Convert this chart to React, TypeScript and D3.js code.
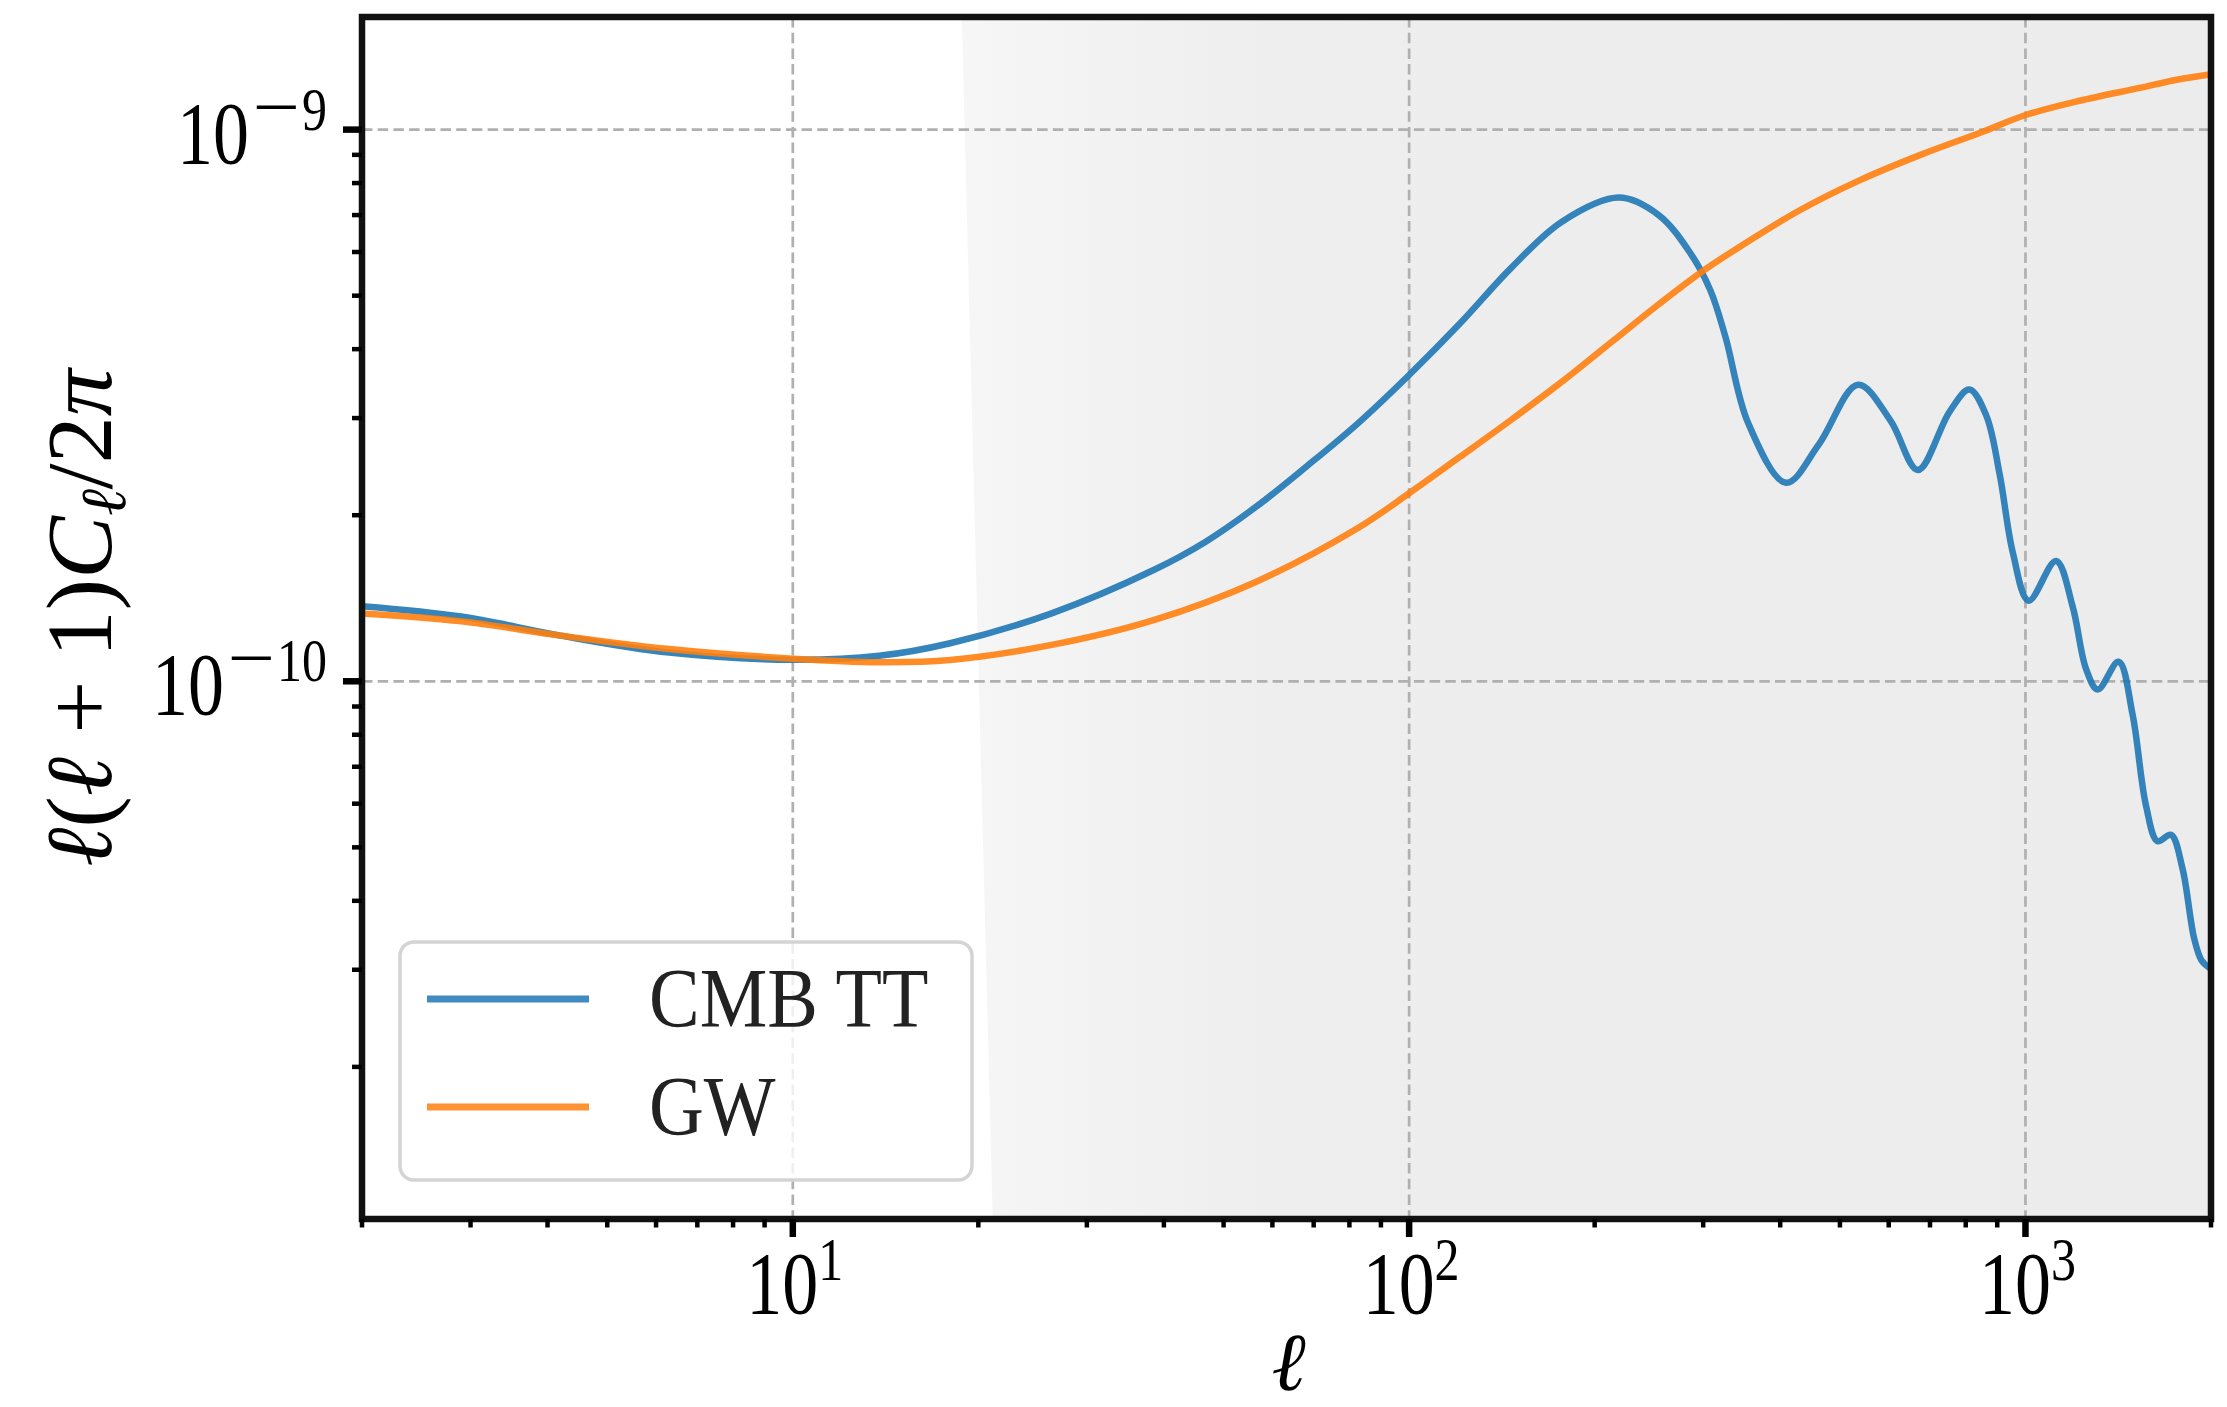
import React from 'react';
import * as d3 from 'd3';

// multipole ell and l(l+1)C_l/2pi
const cmbEll = [2, 2.9, 4.2, 6.3, 10, 13.8, 18, 26.3, 38.5, 46.7, 56.4, 68.3, 82.6, 100, 121, 146.3, 177, 219, 254, 286, 308, 326, 355, 409, 462, 535, 604, 669, 753, 811, 864, 908, 954, 1012, 1121, 1193, 1254, 1310, 1416, 1492, 1569, 1638, 1722, 1797, 1878, 1930, 1990];
const cmbCl = [1.368e-10, 1.31e-10, 1.21e-10, 1.127e-10, 1.094e-10, 1.112e-10, 1.172e-10, 1.328e-10, 1.591e-10, 1.789e-10, 2.07e-10, 2.456e-10, 2.935e-10, 3.591e-10, 4.455e-10, 5.61e-10, 6.81e-10, 7.53e-10, 7.0e-10, 5.97e-10, 5.12e-10, 4.21e-10, 2.935e-10, 2.29e-10, 2.687e-10, 3.448e-10, 2.968e-10, 2.416e-10, 3.08e-10, 3.38e-10, 3.03e-10, 2.374e-10, 1.71e-10, 1.4e-10, 1.652e-10, 1.365e-10, 1.053e-10, 0.966e-10, 1.085e-10, 0.871e-10, 0.595e-10, 0.513e-10, 0.527e-10, 0.459e-10, 0.342e-10, 0.312e-10, 0.302e-10];

const gwEll = [2, 2.9, 4.2, 6.3, 10, 13.8, 18, 26.3, 38.5, 56.4, 82.6, 100, 121, 146.3, 177, 214, 255, 296, 344, 431, 539, 674, 844, 1001, 1224, 1532, 1752, 2000];
const gwCl = [1.327e-10, 1.284e-10, 1.21e-10, 1.144e-10, 1.099e-10, 1.083e-10, 1.093e-10, 1.164e-10, 1.291e-10, 1.514e-10, 1.896e-10, 2.192e-10, 2.553e-10, 2.976e-10, 3.492e-10, 4.138e-10, 4.84e-10, 5.49e-10, 6.135e-10, 7.15e-10, 8.1e-10, 8.99e-10, 9.87e-10, 1.063e-9, 1.128e-9, 1.19e-9, 1.23e-9, 1.26e-9];

const seriesNames = ['CMB TT', 'GW'];
const seriesColors = ['#1f77b4', '#ff7f0e'];

// shaded band: left edge in ell at top and at bottom of the axes
const shadeEllTop = 18.8;
const shadeEllBottom = 21.1;
const shadeFadeEll = 60;

const xDomain = [2, 2000];
const yDomain = [1.06e-11, 1.6e-9];

const W = 2227, H = 1407;
const left = 362, right = 2211, top = 17, bottom = 1219;

export default function App() {
  const x = d3.scaleLog().domain(xDomain).range([left, right]);
  const y = d3.scaleLog().domain(yDomain).range([bottom, top]);

  const line = d3.line<number[]>()
    .x(d => x(d[0]))
    .y(d => y(d[1]))
    .curve(d3.curveCatmullRom.alpha(0.5));

  const series = [
    d3.zip(cmbEll, cmbCl),
    d3.zip(gwEll, gwCl),
  ];

  const isPow10 = (v: number) => Math.abs(Math.log10(v) - Math.round(Math.log10(v))) < 1e-6;
  const xTicks = x.ticks();
  const yTicks = y.ticks();
  const xMajor = xTicks.filter(isPow10);
  const yMajor = yTicks.filter(isPow10);
  const xMinor = xTicks.filter(t => !isPow10(t));
  const yMinor = yTicks.filter(t => !isPow10(t));

  const shadePath = `M${x(shadeEllTop)},${top}L${right},${top}L${right},${bottom}L${x(shadeEllBottom)},${bottom}Z`;

  const font = '"Liberation Serif", "DejaVu Serif", serif';
  const gridStyle = { stroke: '#b0b0b0', strokeWidth: 2.7, strokeDasharray: '10.5,5.2' };
  const sy = 1.22; // tall digits of the original typesetting

  // y tick label pieces, laid out from the right edge
  const yLabelRight = 327;
  const yLabel = (t: number) => {
    const e = String(Math.abs(Math.round(Math.log10(t))));
    const base = y(t) + 33;
    const expW = 25 * e.length;
    const minusEnd = yLabelRight - expW - 2;
    const tenEnd = minusEnd - 47 - 4;
    return (
      <g key={'yl' + t}>
        <text transform={`translate(${tenEnd},${base}) scale(1,${sy})`} textAnchor="end" fontSize={72}>10</text>
        <text transform={`translate(${minusEnd},${base - 33}) scale(1.5,${sy})`} textAnchor="end" fontSize={56}>{'\u2212'}</text>
        <text transform={`translate(${yLabelRight},${base - 33}) scale(1,${sy})`} textAnchor="end" fontSize={50}>{e}</text>
      </g>
    );
  };

  return (
    <div style={{ position: 'absolute', left: 0, top: 0 }}>
      <svg width={W} height={H} style={{ display: 'block', background: '#fff' }} fontFamily={font}>
        <defs>
          <clipPath id="plot">
            <rect x={left} y={top} width={right - left} height={bottom - top} />
          </clipPath>
          <linearGradient id="shade" gradientUnits="userSpaceOnUse" x1={x(shadeEllTop)} x2={right} y1={0} y2={0}>
            <stop offset={0} stopColor="#f6f6f6" />
            <stop offset={(x(shadeFadeEll) - x(shadeEllTop)) / (right - x(shadeEllTop))} stopColor="#eeeeee" />
            <stop offset={1} stopColor="#ececec" />
          </linearGradient>
        </defs>

        <path d={shadePath} fill="url(#shade)" />

        {xMajor.map(t => (
          <line key={'gx' + t} x1={x(t)} x2={x(t)} y1={top} y2={bottom} {...gridStyle} />
        ))}
        {yMajor.map(t => (
          <line key={'gy' + t} x1={left} x2={right} y1={y(t)} y2={y(t)} {...gridStyle} />
        ))}

        <g clipPath="url(#plot)">
          {series.map((s, i) => (
            <path key={i} d={line(s) || ''} fill="none" stroke={seriesColors[i]}
              strokeOpacity={0.9} strokeWidth={6.5} strokeLinejoin="round" />
          ))}
        </g>

        {/* legend */}
        <rect x={400} y={942} width={572} height={238} rx={14} fill="#fff" fillOpacity={0.8}
          stroke="#d4d4d4" strokeWidth={3.5} />
        {seriesNames.map((name, i) => (
          <g key={name}>
            <line x1={427} x2={589} y1={999 + i * 108} y2={999 + i * 108}
              stroke={seriesColors[i]} strokeOpacity={0.85} strokeWidth={7} />
            <text transform={`translate(649,${1027 + i * 108}) scale(1,1.1)`} fontSize={76} fill="#222">{name}</text>
          </g>
        ))}

        {/* spines */}
        <rect x={left} y={top} width={right - left} height={bottom - top} fill="none" stroke="#111" strokeWidth={6.5} />

        {/* ticks */}
        {xMajor.map(t => (
          <line key={'xt' + t} x1={x(t)} x2={x(t)} y1={bottom} y2={bottom + 18} stroke="#000" strokeWidth={6.5} />
        ))}
        {xMinor.map(t => (
          <line key={'xm' + t} x1={x(t)} x2={x(t)} y1={bottom} y2={bottom + 8.5} stroke="#000" strokeWidth={4.5} />
        ))}
        {yMajor.map(t => (
          <line key={'yt' + t} x1={left - 19} x2={left} y1={y(t)} y2={y(t)} stroke="#000" strokeWidth={6.5} />
        ))}
        {yMinor.map(t => (
          <line key={'ym' + t} x1={left - 10} x2={left} y1={y(t)} y2={y(t)} stroke="#000" strokeWidth={4.5} />
        ))}

        {/* tick labels */}
        {xMajor.map(t => (
          <text key={'xl' + t} transform={`translate(${x(t) + 2},1313) scale(1,${sy})`} textAnchor="middle" fontSize={72}>
            10<tspan fontSize={50} dy={-27}>{Math.round(Math.log10(t))}</tspan>
          </text>
        ))}
        {yMajor.map(yLabel)}

        {/* axis labels */}
        <text x={(left + right) / 2 + 2} y={1390} textAnchor="middle" fontSize={82} fontStyle="italic">ℓ</text>
        <text transform={`translate(111,${(top + bottom) / 2}) rotate(-90)`} textAnchor="middle" fontSize={94}>
          <tspan fontStyle="italic">ℓ</tspan>
          <tspan>(</tspan>
          <tspan fontStyle="italic">ℓ</tspan>
          <tspan>{' + 1)'}</tspan>
          <tspan fontStyle="italic">C</tspan>
          <tspan fontStyle="italic" fontSize={64} dy={14}>ℓ</tspan>
          <tspan dy={-14}>/2</tspan>
          <tspan fontStyle="italic">π</tspan>
        </text>
      </svg>
    </div>
  );
}
